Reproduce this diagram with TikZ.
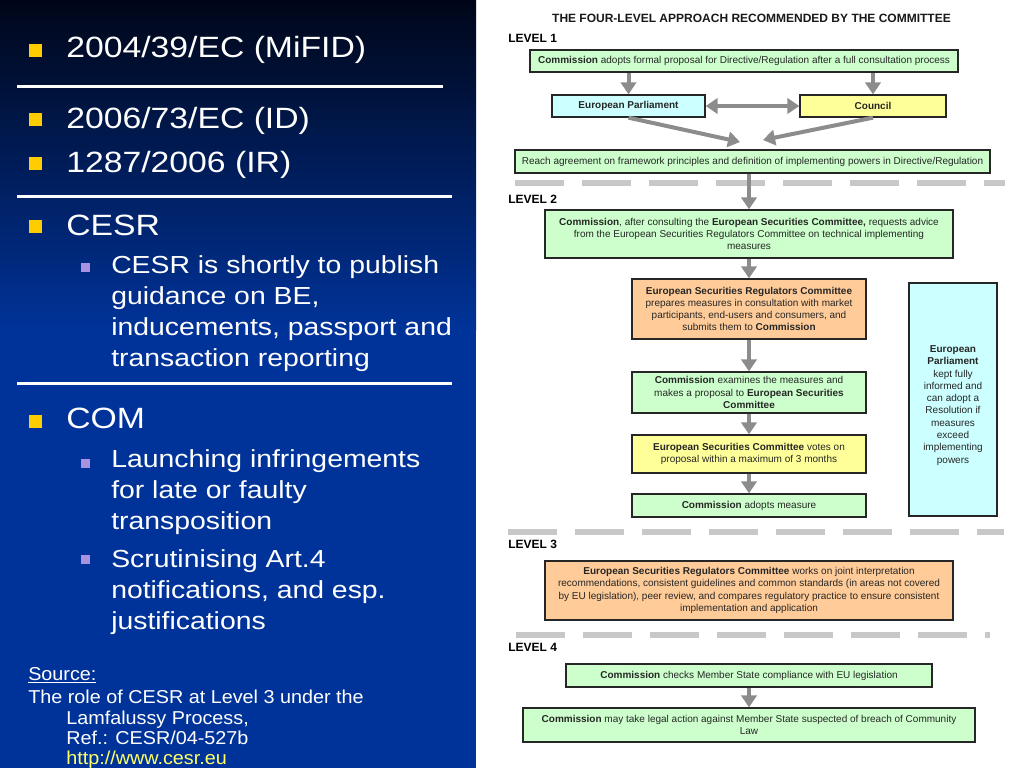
\documentclass[tikz,border=0pt]{standalone}
\usepackage{fontspec}
\setmainfont{Liberation Sans}
\newfontfamily\slidefont[FakeStretch=1.15]{Liberation Sans}
\newfontfamily\srcfont[FakeStretch=1.06]{Liberation Sans}
\usetikzlibrary{arrows.meta}
\definecolor{bgtop}{RGB}{0,6,24}
\definecolor{bgbot}{RGB}{0,51,153}
\definecolor{bulletyellow}{HTML}{FFCC00}
\definecolor{bulletpurple}{HTML}{A992E0}
\definecolor{urlyellow}{HTML}{FFFF66}
\definecolor{boxgreen}{HTML}{CCFFCC}
\definecolor{boxcyan}{HTML}{CCFFFF}
\definecolor{boxyellow}{HTML}{FFFF99}
\definecolor{boxorange}{HTML}{FFCC99}
\definecolor{arrowgray}{RGB}{140,140,140}
\definecolor{dashgray}{RGB}{200,200,200}
\begin{document}
\begin{tikzpicture}[x=0.75pt,y=-0.75pt,
  box/.style={draw=black!85, line width=1pt, inner sep=0pt, align=center,
    font=\fontsize{7.5}{9.2}\selectfont, text=black!85},
  garrow/.style={draw=arrowgray, line width=3pt, -{Triangle[width=11.5pt,length=9pt]}},
  gdarrow/.style={draw=arrowgray, line width=3pt, {Triangle[width=11.5pt,length=9pt]}-{Triangle[width=11.5pt,length=9pt]}},
  dashline/.style={draw=dashgray, line width=4pt, dash pattern=on 36.75pt off 13.5pt},
  levellabel/.style={anchor=base west, inner sep=0pt, font=\bfseries\fontsize{9}{11}\selectfont},
  mainitem/.style={anchor=base west, inner sep=0pt, text=white, font=\slidefont\fontsize{22}{26}\selectfont},
  subitem/.style={anchor=north west, inner sep=0pt, text=white, align=left, font=\slidefont\fontsize{18.5}{23.25}\selectfont},
  rule/.style={draw=white, line width=2.25pt}
]
\useasboundingbox (0,0) rectangle (1024,768);
% backgrounds
\fill[white] (476,0) rectangle (1024,768);
\shade[top color=bgtop, bottom color=bgbot] (0,0) rectangle (476,330);
\fill[bgbot] (0,329) rectangle (476,768);

% ---------- left panel ----------
\draw[rule] (17,86) -- (443,86);
\draw[rule] (17,196) -- (452,196);
\draw[rule] (17,383) -- (452,383);

\fill[bulletyellow] (29,44) rectangle (42,57);
\fill[bulletyellow] (29,113) rectangle (42,126);
\fill[bulletyellow] (29,157) rectangle (42,170);
\fill[bulletyellow] (29,220) rectangle (42,233);
\fill[bulletyellow] (29,415) rectangle (42,428);
\fill[bulletpurple] (81,263) rectangle (90,272);
\fill[bulletpurple] (81,459) rectangle (90,468);
\fill[bulletpurple] (81,555) rectangle (90,564);

\node[mainitem] (i1) at (66,57) {2004/39/EC (MiFID)};
\node[mainitem] (i2) at (66,128) {2006/73/EC (ID)};
\node[mainitem] (i3) at (66,172) {1287/2006 (IR)};
\node[mainitem] (i4) at (66,235) {CESR};
\node[subitem] (s1) at (111,255.3) {CESR is shortly to publish\\guidance on BE,\\inducements, passport and\\transaction reporting};
\node[mainitem] (i5) at (66,428) {COM};
\node[subitem] (s2) at (111,449.3) {Launching infringements\\for late or faulty\\transposition};
\node[subitem] (s3) at (111,549.3) {Scrutinising Art.4\\notifications, and esp.\\justifications};

\node[anchor=base west, inner sep=0pt, text=white, font=\srcfont\fontsize{14}{15.5}\selectfont] (src) at (28,680) {\underline{Source:}};
\node[anchor=north west, inner sep=0pt, text=white, align=left, font=\srcfont\fontsize{14}{15.2}\selectfont] (ref) at (28,690)
  {The role of CESR at Level 3 under the\\\hspace*{28.5pt}Lamfalussy Process,\\\hspace*{28.5pt}Ref.: CESR/04-527b\\\hspace*{28.5pt}{\color{urlyellow}\underline{http://www.cesr.eu}}};

% ---------- right panel ----------
\node[anchor=base, inner sep=0pt, font=\bfseries\fontsize{9}{11}\selectfont, text=black!90] (title) at (751.5,22)
  {THE FOUR-LEVEL APPROACH RECOMMENDED BY THE COMMITTEE};
\node[levellabel] (lv1) at (508,42) {LEVEL 1};
\node[levellabel] (lv2) at (508,203) {LEVEL 2};
\node[levellabel] (lv3) at (508,548) {LEVEL 3};
\node[levellabel] (lv4) at (508,651) {LEVEL 4};

% dashed separators
\draw[dashline] (515,183) -- (1005,183);
\draw[dashline] (508,532) -- (1004,532);
\draw[dashline] (516,635) -- (990,635);

% level 1
\node[box, fill=boxgreen, minimum width=321pt, minimum height=16.5pt] (c1) at (744,61)
  {\textbf{Commission} adopts formal proposal for Directive/Regulation after a full consultation process};
\node[box, fill=boxcyan, minimum width=114.75pt, minimum height=16.5pt] (ep) at (628.5,106)
  {\textbf{European Parliament}};
\node[box, fill=boxyellow, minimum width=109.5pt, minimum height=16.5pt] (council) at (873,106)
  {\textbf{Council}};
\node[box, fill=boxgreen, minimum width=356.25pt, minimum height=17.25pt] (reach) at (752.5,161.5)
  {Reach agreement on framework principles and definition of implementing powers in Directive/Regulation};
\coordinate (tip1) at (740,142);
\coordinate (tip2) at (763,140);

% level 2
\node[box, fill=boxgreen, minimum width=306pt, minimum height=36pt] (c2) at (749,234)
  {\textbf{Commission}, after consulting the \textbf{European Securities Committee,} requests advice\\
   from the European Securities Regulators Committee on technical implementing\\measures};
\node[box, fill=boxorange, minimum width=175.5pt, minimum height=45pt] (esrc) at (749,309)
  {\textbf{European Securities Regulators Committee}\\prepares measures in consultation with market\\
   participants, end-users and consumers, and\\submits them to \textbf{Commission}};
\node[box, fill=boxgreen, minimum width=175.5pt, minimum height=30.75pt] (exam) at (749,392.5)
  {\textbf{Commission} examines the measures and\\makes a proposal to \textbf{European Securities}\\\textbf{Committee}};
\node[box, fill=boxyellow, minimum width=175.5pt, minimum height=28.5pt] (votes) at (749,454)
  {\textbf{European Securities Committee} votes on\\proposal within a maximum of 3 months};
\node[box, fill=boxgreen, minimum width=175.5pt, minimum height=17.25pt] (adopt) at (749,505.5)
  {\textbf{Commission} adopts measure};
\node[box, fill=boxcyan, minimum width=66pt, minimum height=174.75pt] (epside) at (953,399.5)
  {\rule{0pt}{14pt}\textbf{European}\\\textbf{Parliament}\\kept fully\\informed and\\can adopt a\\Resolution if\\measures\\exceed\\implementing\\powers};

% level 3
\node[box, fill=boxorange, minimum width=306pt, minimum height=44.25pt] (esrc3) at (749,590.5)
  {\textbf{European Securities Regulators Committee} works on joint interpretation\\
   recommendations, consistent guidelines and common standards (in areas not covered\\
   by EU legislation), peer review, and compares regulatory practice to ensure consistent\\
   implementation and application};

% level 4
\node[box, fill=boxgreen, minimum width=274.5pt, minimum height=17.25pt] (check) at (749,675.5)
  {\textbf{Commission} checks Member State compliance with EU legislation};
\node[box, fill=boxgreen, minimum width=339pt, minimum height=25.5pt] (legal) at (749,725)
  {\textbf{Commission} may take legal action against Member State suspected of breach of Community\\Law};

% arrows
\draw[garrow] (c1.south -| ep.north) -- (ep.north);
\draw[garrow] (c1.south -| council.north) -- (council.north);
\draw[gdarrow] (ep.east) -- (council.west);
\draw[garrow] (ep.south) -- (tip1);
\draw[garrow] (council.south) -- (tip2);
\draw[garrow] (reach.south -| c2.north) -- (c2.north);
\draw[garrow] (c2.south) -- (esrc.north);
\draw[garrow] (esrc.south) -- (exam.north);
\draw[garrow] (exam.south) -- (votes.north);
\draw[garrow] (votes.south) -- (adopt.north);
\draw[garrow] (check.south) -- (legal.north);
\end{tikzpicture}
\end{document}
